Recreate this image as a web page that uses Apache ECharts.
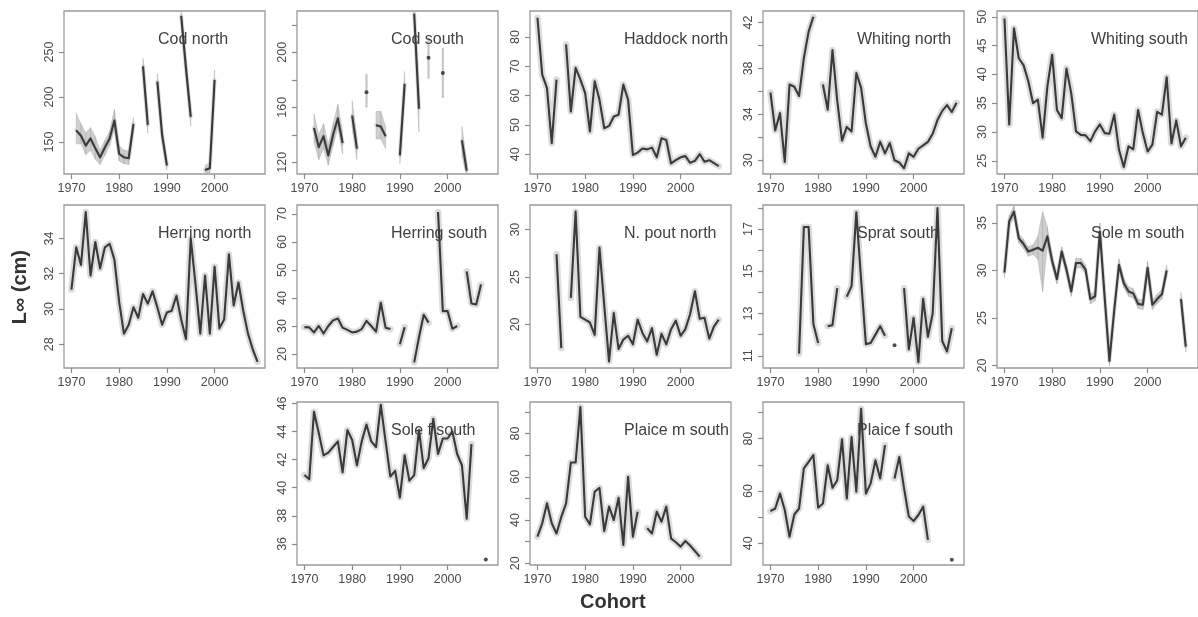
<!DOCTYPE html>
<html><head><meta charset="utf-8">
<script src="https://cdn.jsdelivr.net/npm/echarts@6/dist/echarts.min.js"></script>
<style>html,body{margin:0;padding:0;background:#fff}#c{width:1198px;height:617px}</style>
</head><body><div id="c"></div>
<script>
// Cohorts 1970..2009
const years = [1970,1971,1972,1973,1974,1975,1976,1977,1978,1979,1980,1981,1982,1983,1984,1985,1986,1987,1988,1989,
               1990,1991,1992,1993,1994,1995,1996,1997,1998,1999,2000,2001,2002,2003,2004,2005,2006,2007,2008,2009];
const xTicks = [1970, 1980, 1990, 2000];

const codNorth = [null,163,157,146,154,143,133,144,154,174,137,133,132,170,null,234,169,null,217,158,
                  124,null,null,290,232,178,null,null,119,121,219,null,null,null,null,null,null,null,null,null];
const codNorthLo = [null,148,148,136,141,131,125,135,146,164,129,126,125,164,null,225,160,null,208,150,
                  119,null,null,280,222,168,null,null,115,116,208,null,null,null,null,null,null,null,null,null];
const codNorthHi = [null,182,170,160,166,156,141,152,162,186,146,141,140,177,null,243,178,null,226,166,
                  130,null,null,296,242,188,null,null,124,127,230,null,null,null,null,null,null,null,null,null];
const codSouth = [null,null,145,131,139,125,140,152,134,null,154,130,null,171,null,147,146,139,null,null,
                  125,177,null,228,159,null,196,null,null,185,null,null,null,136,114,null,null,null,null,null];
const codSouthLo = [null,null,135,122,130,118,132,145,126,null,145,122,null,160,null,137,137,130,null,null,
                  119,168,null,220,142,null,181,null,null,167,null,null,null,125,110,null,null,null,null,null];
const codSouthHi = [null,null,155,140,148,133,148,162,142,null,165,138,null,184,null,157,157,146,null,null,
                  131,186,null,230,168,null,210,null,null,203,null,null,null,146,120,null,null,null,null,null];
const haddockNorth = [86.6,67.2,62.6,43.8,65.5,null,77.5,54.6,69.5,65.5,60.9,47.8,64.9,58.6,48.9,49.7,52.9,53.5,63.8,58.6,
                  39.8,40.6,42,41.7,42.3,39,45.5,44.9,36.9,38,39,39.4,37.1,37.8,40.1,37.5,38,37,36,null];
const whitingNorth = [35.9,32.6,34.1,29.85,36.6,36.4,35.6,38.9,41.2,42.5,null,36.6,34.4,39.6,35.2,31.7,32.9,32.5,37.6,36.3,
                  33.2,31.2,30.3,31.6,30.6,31.5,30.0,29.8,29.3,30.6,30.3,31.0,31.3,31.6,32.3,33.5,34.3,34.8,34.2,35.0];
const whitingSouth = [49.7,31.3,48,42.8,41.6,38.8,35,35.6,29,37.9,43.4,33.8,32.4,41,36.7,30.1,29.5,29.4,28.4,30.1,
                  31.3,29.8,29.7,33,26.9,23.9,27.5,27,33.8,29.8,26.6,27.8,33.5,33,39.5,28,32,27.5,29,null];
const herringNorth = [31.1,33.5,32.5,35.5,31.9,33.8,32.3,33.5,33.7,32.8,30.4,28.6,29.1,30.1,29.5,30.85,30.3,31.0,30.1,29.1,
                  29.8,29.9,30.75,29.4,28.3,34.0,31.4,28.6,31.9,28.6,32.4,28.9,29.4,33.1,30.2,31.5,29.9,28.6,27.7,27.0];
const herringSouth = [29.6,29.5,27.7,30,27.3,30,32,32.7,29.4,28.6,27.7,28,28.9,31.8,30,28,38.3,29.4,28.9,null,
                  23.5,29.6,null,17,26,34,31.2,null,70.7,35.3,35.3,29,30,null,49.5,38,37.7,44.8,null,null];
const npoutNorth = [null,null,null,null,27.4,17.5,null,22.8,31.9,20.8,20.5,20.2,18.9,28.1,22,16.1,21.2,17.4,18.4,18.8,
                  17.9,20.5,19.1,18.2,19.6,16.8,19.0,17.9,19.5,20.4,18.8,19.5,21.1,23.5,20.6,20.7,18.5,19.8,20.5,null];
const spratSouth = [null,null,null,null,null,null,11.1,17.1,17.1,12.5,11.6,null,12.4,12.45,14.2,null,13.8,14.3,17.8,14.6,
                  11.55,11.6,12.0,12.4,11.95,null,11.5,null,14.2,11.3,12.8,10.7,13.7,11.9,13,18,11.7,11.2,12.3,null];
const soleMSouth = [29.8,35.2,36.2,33.4,32.8,32.0,32.2,32.4,32.1,33.6,31.0,29.1,32.0,30.1,27.8,30.8,30.8,30.1,27.0,27.3,
                  34.1,27.2,20.5,25.8,30.6,28.7,27.8,27.6,26.5,26.4,30.3,26.4,27.0,27.5,30,null,null,27,22,null];
const soleMSouthLo = [29.2,34.6,35.6,32.9,32.3,31.5,31.7,31.2,27.8,32.6,30.5,28.6,31.5,29.6,27.3,30.3,30.3,29.6,26.5,26.8,
                  33.2,26.7,20.0,25.3,30.0,28.2,27.3,27.1,26.0,25.9,29.6,25.9,26.5,27.0,29.4,null,null,26.3,21.4,null];
const soleMSouthHi = [30.4,35.8,36.8,33.9,33.3,32.5,32.7,33.6,36.2,34.6,31.5,29.6,32.5,30.6,28.3,31.3,31.3,30.6,27.5,27.8,
                  35.0,27.7,21.0,26.3,31.2,29.2,28.3,28.1,27.0,26.9,31.0,26.9,27.5,28.0,30.6,null,null,27.7,22.6,null];
const soleFSouth = [40.9,40.6,45.4,43.9,42.3,42.5,42.9,43.3,41.1,44.1,43.4,41.6,43.3,44.5,43.3,42.9,45.9,43.3,40.8,41.2,
                  39.3,42.3,40.5,40.9,44.1,41.4,42.1,44.9,42.4,43.5,43.5,44.0,42.4,41.6,37.8,43.1,null,null,34.9,null];
const plaiceMSouth = [32.3,38.5,47.7,38.5,33.8,41.5,47.7,66.6,66.6,92.3,41.5,38,53.1,54.9,34.9,46.2,40,50.3,28.5,60,
                  32.3,43.8,null,36.2,33.8,43.8,39.2,46.2,31.5,29.7,27.7,30.3,28.2,25.7,23.1,null,null,null,null,null];
const plaiceFSouth = [52.3,53.3,59,52.7,42.5,51,53.3,68.6,71.1,73.7,53.6,55.2,69.8,61.2,64.1,79.7,57.1,80.6,59.7,91.4,
                  59,62.9,71.7,64.8,77.5,null,64.8,73,61,50.2,48.5,50.8,54,41.3,null,null,null,null,33.7,null];

// panel definitions: name, data, optional band, y-range, tick values, labelled ticks, grid cell
const panels = [
  {name:'Cod north',     data:codNorth, lo:codNorthLo, hi:codNorthHi, min:114.5, max:295.5, ticks:[150,200,250], labels:[150,200,250], r:0, c:0},
  {name:'Cod south',     data:codSouth, lo:codSouthLo, hi:codSouthHi, min:111.5, max:230,   ticks:[120,140,160,180,200,220], labels:[120,160,200], r:0, c:1},
  {name:'Haddock north', data:haddockNorth, min:33.3,  max:88.9,  ticks:[40,50,60,70,80], labels:[40,50,60,70,80], r:0, c:2},
  {name:'Whiting north', data:whitingNorth, min:28.8,  max:43.0,  ticks:[30,32,34,36,38,40,42], labels:[30,34,38,42], r:0, c:3},
  {name:'Whiting south', data:whitingSouth, min:22.7,  max:51,    ticks:[25,30,35,40,45,50], labels:[25,30,35,40,45,50], r:0, c:4},
  {name:'Herring north', data:herringNorth, min:26.65, max:35.9,  ticks:[28,30,32,34], labels:[28,30,32,34], r:1, c:0},
  {name:'Herring south', data:herringSouth, min:15,    max:73.2,  ticks:[20,30,40,50,60,70], labels:[20,30,40,50,60,70], r:1, c:1},
  {name:'N. pout north', data:npoutNorth,   min:15.4,  max:32.6,  ticks:[20,25,30], labels:[20,25,30], r:1, c:2},
  {name:'Sprat south',   data:spratSouth,   min:10.42, max:18.14, ticks:[11,12,13,14,15,16,17,18], labels:[11,13,15,17], r:1, c:3},
  {name:'Sole m south',  data:soleMSouth, lo:soleMSouthLo, hi:soleMSouthHi, min:19.75, max:36.9, ticks:[20,25,30,35], labels:[20,25,30,35], r:1, c:4},
  {name:'Sole f south',  data:soleFSouth,   min:34.5,  max:46.1,  ticks:[36,38,40,42,44,46], labels:[36,38,40,42,44,46], r:2, c:1},
  {name:'Plaice m south',data:plaiceMSouth, min:19.2,  max:94.6,  ticks:[20,30,40,50,60,70,80,90], labels:[20,40,60,80], r:2, c:2},
  {name:'Plaice f south',data:plaiceFSouth, min:31.7,  max:94,    ticks:[40,50,60,70,80,90], labels:[40,60,80], r:2, c:3}
];

const colLeft = [64, 297, 530, 763, 997];
const rowTop = [11, 205, 402];
const W = 201, H = 163;
const FONT = 'Liberation Sans, Arial, sans-serif';
const TXT = '#4a4a4a';
const BAND = 'rgba(175,175,175,0.6)';

const grids = [], xAxes = [], yAxes = [], series = [], titles = [];
panels.forEach((p, i) => {
  const left = colLeft[p.c], top = rowTop[p.r];
  grids.push({left: left, top: top, width: W, height: H, show: true, borderColor: '#9a9a9a', borderWidth: 1.3, backgroundColor: '#fff'});
  xAxes.push({type:'value', gridIndex:i, min:1968.44, max:2010.56,
    axisLine:{show:false}, splitLine:{show:false},
    axisTick:{show:true, inside:false, length:5, customValues:xTicks, lineStyle:{color:'#8a8a8a', width:1.2}},
    axisLabel:{show:true, customValues:xTicks, margin:8, color:TXT, fontFamily:FONT, fontSize:12.5,
      formatter: v => String(v)}});
  yAxes.push({type:'value', gridIndex:i, min:p.min, max:p.max,
    axisLine:{show:false}, splitLine:{show:false},
    axisTick:{show:true, length:5, customValues:p.ticks, lineStyle:{color:'#8a8a8a', width:1.2}},
    axisLabel:{show:true, customValues:p.labels, rotate:90, margin:8, color:TXT, fontFamily:FONT, fontSize:12.5,
      formatter: v => String(v)}});
  const pts = years.map((y, k) => [y, p.data[k] == null ? '-' : p.data[k]]);
  const isIso = k => p.data[k] != null && (k === 0 || p.data[k-1] == null) && (k === p.data.length-1 || p.data[k+1] == null);
  if (p.lo) {
    // confidence band: one quadrilateral between each pair of consecutive estimates, bars for isolated ones
    const quads = [];
    p.lo.forEach((v, k) => {
      if (v == null) return;
      if (k + 1 < p.lo.length && p.lo[k+1] != null) quads.push([years[k], p.lo[k], p.hi[k], years[k+1], p.lo[k+1], p.hi[k+1]]);
      else if (isIso(k)) quads.push([years[k] - 0.15, p.lo[k], p.hi[k], years[k] + 0.15, p.lo[k], p.hi[k]]);
    });
    series.push({type:'custom', xAxisIndex:i, yAxisIndex:i, data:quads, silent:true, z:1, clip:true, animation:false,
      renderItem: (params, api) => {
        const a = api.coord([api.value(0), api.value(1)]);
        const b = api.coord([api.value(0), api.value(2)]);
        const c = api.coord([api.value(3), api.value(5)]);
        const d = api.coord([api.value(3), api.value(4)]);
        return {type:'polygon', shape:{points:[a, b, c, d]}, style:{fill:BAND, stroke:BAND, lineWidth:0.8}};
      }});
  }
  series.push({type:'line', xAxisIndex:i, yAxisIndex:i, data:pts, showSymbol:false, silent:true, z:1,
    lineStyle:{color:'rgba(185,185,185,0.5)', width:p.lo ? 4 : 6.5, cap:'round', join:'round'}, animation:false});
  series.push({type:'line', xAxisIndex:i, yAxisIndex:i, data:pts, showSymbol:false, silent:true, z:2,
    lineStyle:{color:'#3a3a3a', width:2.1, join:'round'}, animation:false});
  const iso = [];
  p.data.forEach((v, k) => { if (isIso(k)) iso.push([years[k], v]); });
  if (iso.length) series.push({type:'scatter', xAxisIndex:i, yAxisIndex:i, data:iso, symbolSize:4, z:3,
    itemStyle:{color:'#222'}, animation:false});
  titles.push({text:p.name, left:left + 89, top:top + 16,
    textStyle:{fontFamily:FONT, fontSize:16, fontWeight:'normal', color:'#404040'}});
});

const chart = echarts.init(document.getElementById('c'), null, {renderer:'canvas'});
chart.setOption({
  animation:false,
  backgroundColor:'#fff',
  title: titles,
  grid: grids, xAxis: xAxes, yAxis: yAxes, series: series,
  graphic: [
    {type:'text', left:10, top:250, rotation:Math.PI/2,
      style:{text:'L\u221E (cm)', font:'bold 20px ' + FONT, fill:'#333'}},
    {type:'text', left:580, top:592,
      style:{text:'Cohort', font:'bold 20px ' + FONT, fill:'#333'}}
  ]
});
</script></body></html>
